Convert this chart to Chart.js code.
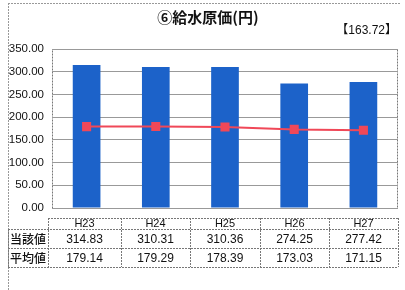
<!DOCTYPE html>
<html><head><meta charset="utf-8">
<script src="https://cdn.jsdelivr.net/npm/chart.js@4/dist/chart.umd.min.js"></script>
<style>html,body{margin:0;padding:0;background:#fff;}#wrap{position:relative;width:405px;height:290px;}</style>
</head><body><div id="wrap"><canvas id="c" width="405" height="290"></canvas></div>
<script>
const categories = ["H23", "H24", "H25", "H26", "H27"];
const currentValues = [314.83, 310.31, 310.36, 274.25, 277.42];
const averageValues = [179.14, 179.29, 178.39, 173.03, 171.15];
const rowLabels = ["当該値", "平均値"];
const titleText = "⑥給水原価(円)";
const referenceText = "【163.72】";
const yTicks = [0, 50, 100, 150, 200, 250, 300, 350];

const NUMFONT = '"Liberation Sans","Noto Sans CJK JP",sans-serif';
const JPFONT = '"Noto Sans CJK JP",sans-serif';

const decor = {
  id: 'decor',
  beforeDraw(chart) {
    const ctx = chart.ctx, ca = chart.chartArea;
    ctx.save();
    ctx.fillStyle = '#fff';
    ctx.fillRect(0, 0, chart.width, chart.height);
    ctx.strokeStyle = '#999';
    ctx.lineWidth = 1;
    ctx.setLineDash([2, 1]);
    ctx.beginPath();
    ctx.moveTo(8, 3.5); ctx.lineTo(401, 3.5);
    ctx.moveTo(8.5, 3); ctx.lineTo(8.5, 290);
    ctx.stroke();
    ctx.strokeStyle = '#777';
    ctx.setLineDash([2, 1]);
    ctx.strokeRect(Math.round(ca.left) + 0.5, Math.round(ca.top) + 0.5, Math.round(ca.right - ca.left) - 1, Math.round(ca.bottom - ca.top));
    ctx.restore();
    ctx.save();
    ctx.fillStyle = '#111';
    ctx.font = 'bold 15px ' + JPFONT;
    ctx.textAlign = 'center';
    ctx.textBaseline = 'middle';
    ctx.fillText(titleText, 208, 17);
    ctx.font = '12px ' + NUMFONT;
    ctx.textAlign = 'right';
    ctx.fillText(referenceText, 397, 31);
    ctx.restore();
  },
  afterDraw(chart) {
    const ctx = chart.ctx, xs = chart.scales.x;
    const n = categories.length;
    const half = (xs.getPixelForValue(1) - xs.getPixelForValue(0)) / 2;
    const bounds = [48];
    for (let i = 0; i < n; i++) bounds.push(Math.round(xs.getPixelForValue(i) + half));
    const labelLeft = 8;
    const rows = [218, 229, 248, 267];
    ctx.save();
    ctx.strokeStyle = '#777';
    ctx.lineWidth = 1;
    ctx.setLineDash([2, 1]);
    ctx.beginPath();
    ctx.moveTo(bounds[0], rows[0] + 0.5); ctx.lineTo(bounds[n], rows[0] + 0.5);
    for (let r = 1; r < rows.length; r++) {
      ctx.moveTo(labelLeft, rows[r] + 0.5); ctx.lineTo(bounds[n], rows[r] + 0.5);
    }
    for (let i = 0; i <= n; i++) {
      ctx.moveTo(bounds[i] + 0.5, rows[0]); ctx.lineTo(bounds[i] + 0.5, rows[3]);
    }
    ctx.moveTo(labelLeft + 0.5, rows[1]); ctx.lineTo(labelLeft + 0.5, rows[3]);
    ctx.stroke();
    ctx.setLineDash([]);
    ctx.fillStyle = '#111';
    ctx.textAlign = 'center';
    ctx.textBaseline = 'middle';
    for (let i = 0; i < n; i++) {
      const cx = (bounds[i] + bounds[i + 1]) / 2;
      ctx.font = '11px ' + NUMFONT;
      ctx.fillText(categories[i], cx, (rows[0] + rows[1]) / 2 + 0.5);
      ctx.font = '12px ' + NUMFONT;
      ctx.fillText(currentValues[i].toFixed(2), cx, (rows[1] + rows[2]) / 2 + 1);
      ctx.fillText(averageValues[i].toFixed(2), cx, (rows[2] + rows[3]) / 2 + 1);
    }
    ctx.font = '500 12px ' + JPFONT;
    ctx.fillText(rowLabels[0], (labelLeft + bounds[0]) / 2, (rows[1] + rows[2]) / 2 + 1);
    ctx.fillText(rowLabels[1], (labelLeft + bounds[0]) / 2, (rows[2] + rows[3]) / 2 + 1);
    ctx.restore();
  }
};

new Chart(document.getElementById('c'), {
  data: {
    labels: categories,
    datasets: [
      {
        type: 'line', label: rowLabels[1], data: averageValues,
        borderColor: '#f04858', backgroundColor: '#f04858', borderWidth: 2,
        pointStyle: 'rect', pointRadius: 5, pointHoverRadius: 5, order: 0
      },
      {
        type: 'bar', label: rowLabels[0], data: currentValues,
        backgroundColor: '#1c62c9', barPercentage: 0.4, categoryPercentage: 1.0, order: 1
      }
    ]
  },
  options: {
    responsive: false, animation: false,
    layout: { padding: { left: 8, right: 5, top: 49, bottom: 82 } },
    plugins: { legend: { display: false }, tooltip: { enabled: false }, title: { display: false } },
    scales: {
      x: { display: false, offset: true },
      y: {
        min: 0, max: 350,
        afterBuildTicks(s) { s.ticks = yTicks.map(v => ({ value: v })); },
        afterFit(s) { s.width = 44; },
        border: { display: false },
        grid: { color: '#999', borderDash: [2, 2], drawTicks: false, lineWidth: 1 },
        ticks: {
          padding: 8, color: '#111',
          font: { family: NUMFONT, size: 11.5 },
          callback: v => Number(v).toFixed(2)
        }
      }
    }
  },
  plugins: [decor]
});
</script></body></html>
